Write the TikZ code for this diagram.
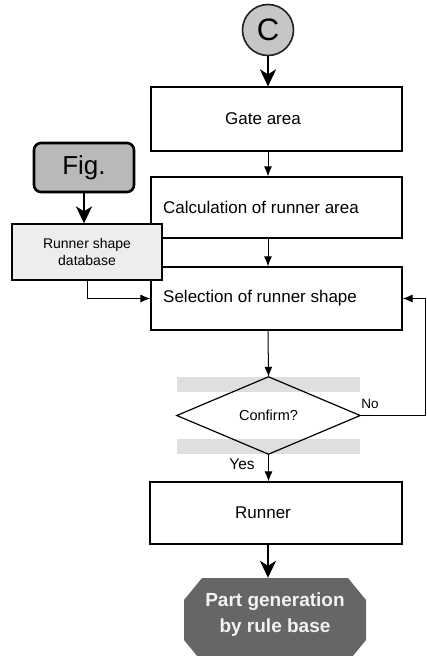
\documentclass[tikz,border=0pt]{standalone}
\usepackage{fontspec}
\setmainfont{Liberation Sans}
\usetikzlibrary{arrows.meta,calc}
\begin{document}
\begin{tikzpicture}[x=1pt,y=-1pt,
  box/.style={draw=black,line width=1.2pt,fill=white,inner sep=0pt},
  lbl/.style={font=\fontsize{17}{20}\selectfont,inner sep=0pt},
  arr/.style={draw=black,line width=1pt,-{Latex[length=10pt,width=8pt]}},
  bigarr/.style={draw=black,line width=2.6pt,-{Stealth[length=17pt,width=16pt,inset=5pt]}},
  band/.style={fill=gray!25,draw=none}
]
\useasboundingbox (0,0) rectangle (427,656);
\clip (0,0) rectangle (427,656);

% start connector
\node[circle,minimum size=51pt,inner sep=0pt,fill=gray!45,draw=gray!25!black,line width=1.6pt,
      font=\fontsize{31}{31}\selectfont] (C) at (268,30) {C};

% main process boxes
\node[box,minimum width=251pt,minimum height=64pt] (gate) at (276.5,119) {};
\node[lbl] (tgate) at (263,119) {Gate area};
\node[box,minimum width=251pt,minimum height=61pt] (calc) at (276.5,207.5) {};
\node[lbl,anchor=west] (tcalc) at (163,207.5) {Calculation of runner area};
\node[box,minimum width=251pt,minimum height=63pt] (sel) at (276.5,298.5) {};
\node[lbl,anchor=west] (tsel) at (163,298.5) {Selection of runner shape};

% figure source and shape database
\node[draw=black,line width=2.6pt,fill=gray!55,rounded corners=7pt,minimum width=100pt,minimum height=49pt,
      inner sep=0pt,font=\fontsize{26}{26}\selectfont] (fig) at (84,167.5) {Fig.};
\node[draw=black,line width=1.2pt,fill=gray!14,minimum width=150pt,minimum height=56pt,inner sep=0pt,
      align=center,font=\fontsize{14}{17}\selectfont] (db) at (87,252) {Runner shape\\database};

% decision
\node[minimum width=183pt,minimum height=77pt,inner sep=0pt] (dia) at (268.5,415.5) {};
\fill[band] (dia.north west) rectangle ($(dia.north east)+(0,15)$);
\fill[band] ($(dia.south west)+(0,-15)$) rectangle (dia.south east);
\draw[line width=1.2pt] (dia.west) -- (dia.north) -- (dia.east) -- (dia.south) -- cycle;
\node[font=\fontsize{14.5}{14.5}\selectfont,inner sep=0pt] (tdia) at (dia.center) {Confirm?};

\node[box,minimum width=252pt,minimum height=62pt] (runner) at (276,513) {};
\node[lbl] (trunner) at (263,513) {Runner};

% terminal octagon
\node[minimum width=182pt,minimum height=84pt,inner sep=0pt] (pg) at (275,620) {};
\fill[gray!80!black] (202,578) -- (348,578) -- (366,600) -- (366,640) -- (348,662)
  -- (202,662) -- (184,640) -- (184,600) -- cycle;
\node[text=gray!10,align=center,font=\bfseries\fontsize{19}{26}\selectfont] (tpg) at (275,615)
  {Part generation\\by rule base};

% connectors
\coordinate (loopx) at (425,0);
\draw[bigarr] (C.south) -- (gate.north -| C.south);
\draw[arr] (gate.south -| C.south) -- (calc.north -| C.south);
\draw[arr] (calc.south -| C.south) -- (sel.north -| C.south);
\draw[arr] (sel.south -| C.south) -- (dia.north);
\draw[arr] (dia.south) -- (runner.north -| dia.south);
\draw[bigarr] (runner.south -| C.south) -- (pg.north -| C.south);
\draw[bigarr] (fig.south) -- (fig.south |- db.north);
\draw[arr] (db.south) |- (sel.west);
\draw[arr] (dia.east) -- (dia.east -| loopx) |- (sel.east);

\node[font=\fontsize{13.5}{13.5}\selectfont,inner sep=0pt] (no) at (370,404) {No};
\node[font=\fontsize{15.5}{15.5}\selectfont,inner sep=0pt] (yes) at (242,464) {Yes};
\end{tikzpicture}
\end{document}
